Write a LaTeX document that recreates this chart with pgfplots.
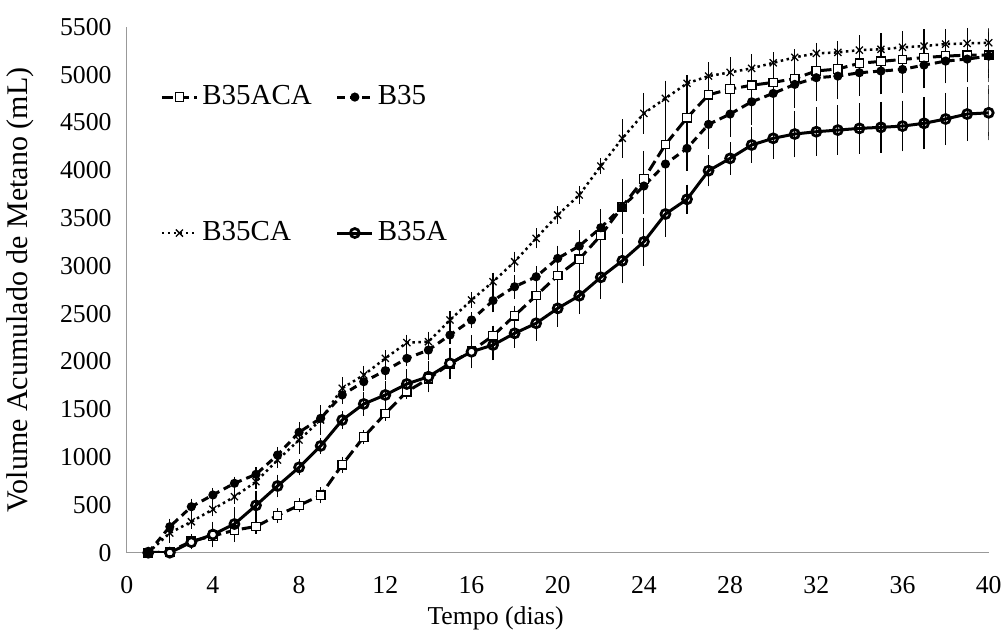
\documentclass[border=0pt]{standalone}
\usepackage{fontspec}
\setmainfont{Liberation Serif}
\usepackage{pgfplots}
\pgfplotsset{compat=1.18}
\usepackage{pgfplotstable}

% day, volume (mL), std
\pgfplotstableread{
d v e
1 0 0
2 10 0
3 120 30
4 175 60
5 235 80
6 275 30
7 390 30
8 495 30
9 600 40
10 920 40
11 1210 30
12 1455 30
13 1685 30
14 1820 50
15 1975 50
16 2110 50
17 2270 60
18 2480 60
19 2690 100
20 2900 150
21 3070 200
22 3320 200
23 3620 240
24 3910 250
25 4270 270
26 4550 255
27 4790 290
28 4850 290
29 4890 280
30 4920 270
31 4960 260
32 5040 250
33 5060 250
34 5120 250
35 5140 250
36 5160 250
37 5180 250
38 5195 240
39 5205 240
40 5205 240
}\tabACA

\pgfplotstableread{
d v e
1 0 0
2 272 40
3 481 40
4 604 30
5 726 25
6 820 30
7 1022 40
8 1260 60
9 1406 80
10 1650 50
11 1789 50
12 1904 50
13 2033 40
14 2120 60
15 2277 50
16 2434 40
17 2638 80
18 2782 80
19 2887 70
20 3079 90
21 3208 120
22 3400 150
23 3619 200
24 3836 250
25 4066 350
26 4230 190
27 4481 210
28 4589 195
29 4717 200
30 4805 200
31 4899 200
32 4969 200
33 4986 200
34 5021 200
35 5039 200
36 5056 200
37 5101 200
38 5143 180
39 5164 180
40 5195 180
}\tabB

\pgfplotstableread{
d v e
1 0 0
2 206 60
3 324 30
4 454 30
5 586 30
6 743 30
7 970 40
8 1179 100
9 1388 110
10 1720 70
11 1859 50
12 2033 40
13 2197 40
14 2207 60
15 2434 50
16 2643 40
17 2835 50
18 3044 60
19 3289 60
20 3532 50
21 3742 50
22 4045 40
23 4335 157
24 4596 171
25 4753 140
26 4910 40
27 4986 100
28 5025 100
29 5067 80
30 5125 40
31 5182 40
32 5224 40
33 5234 40
34 5258 40
35 5266 40
36 5287 40
37 5300 40
38 5321 70
39 5328 80
40 5335 100
}\tabCA

\pgfplotstableread{
d v e
1 0 0
2 0 0
3 110 30
4 190 90
5 300 130
6 495 110
7 698 75
8 893 40
9 1117 40
10 1388 50
11 1556 80
12 1650 100
13 1765 110
14 1841 120
15 1981 120
16 2102 130
17 2173 115
18 2295 105
19 2400 140
20 2556 148
21 2688 148
22 2881 183
23 3054 192
24 3253 209
25 3543 192
26 3697 108
27 3996 119
28 4125 125
29 4265 140
30 4335 174
31 4380 200
32 4404 209
33 4421 213
34 4439 220
35 4450 221
36 4463 221
37 4492 227
38 4537 230
39 4589 239
40 4602 244
}\tabA

\begin{document}
\begin{tikzpicture}
\begin{axis}[name=ax,
  scale only axis, width=344.8pt, height=210.3pt,
  xmin=0, xmax=40, ymin=0, ymax=5500,
  xtick={0,4,...,40}, ytick={0,500,...,5500},
  axis x line*=bottom, axis y line*=left,
  axis line style={gray!80, line width=0.5pt},
  major tick length=0pt,
  /pgf/number format/assume math mode=true,
  /pgf/number format/1000 sep={},
  tick label style={font=\fontsize{10.3}{12}\selectfont},
  yticklabel style={xshift=-2.5pt},
  xticklabel style={yshift=-6pt},
  xlabel={Tempo (dias)}, ylabel={Volume Acumulado de Metano (mL)},
  xlabel style={font=\fontsize{10.3}{12}\selectfont, at={(axis description cs:0.428,-0.124)}, anchor=center},
  ylabel style={font=\fontsize{12}{14}\selectfont, at={(axis description cs:-0.1238,0.5)}, anchor=center, rotate=0},
  legend columns=2,
  legend cell align=left,
  legend image code/.code={\draw[mark repeat=2,mark phase=2,#1] plot coordinates {(0cm,0cm) (0.245cm,0cm) (0.49cm,0cm)};},
  legend style={at={(rel axis cs:0.0386,0.897)}, anchor=north west, draw=none, fill=none,
    font=\fontsize{11.6}{13}\selectfont, row sep=42pt, inner sep=0pt,
    nodes={inner sep=1.6pt},
    /tikz/every even column/.append style={column sep=8pt}},
  error bars/y dir=both, error bars/y explicit,
  error bars/error bar style={line width=0.45pt, solid, black},
  error bars/error mark options={line width=0.45pt, mark size=1.7pt, black, solid},
]
\addplot[black, line width=1.2pt, dash pattern=on 4.5pt off 2pt, mark=square*, mark size=1.7pt,
  mark options={solid, fill=white, line width=0.5pt}]
  table[x=d, y=v, y error=e] {\tabACA};
\addlegendentry{B35ACA}
\addplot[black, line width=1.2pt, dash pattern=on 3pt off 2pt, mark=*, mark size=1.2pt,
  mark options={solid}]
  table[x=d, y=v, y error=e] {\tabB};
\addlegendentry{B35}
\addplot[black, line width=1pt, dash pattern=on 1pt off 1.4pt, mark=x, mark size=2pt,
  mark options={solid, line width=0.5pt}]
  table[x=d, y=v, y error=e] {\tabCA};
\addlegendentry{B35CA}
\addplot[black, line width=1.2pt, mark=o, mark size=1.8pt,
  mark options={solid, line width=1.1pt}]
  table[x=d, y=v, y error=e] {\tabA};
\addlegendentry{B35A}
\end{axis}
\pgfresetboundingbox
\path[use as bounding box] ([shift={(-50.68pt,-33.32pt)}]ax.south west) rectangle ([shift={(351.72pt,221.08pt)}]ax.south west);
\end{tikzpicture}
\end{document}
